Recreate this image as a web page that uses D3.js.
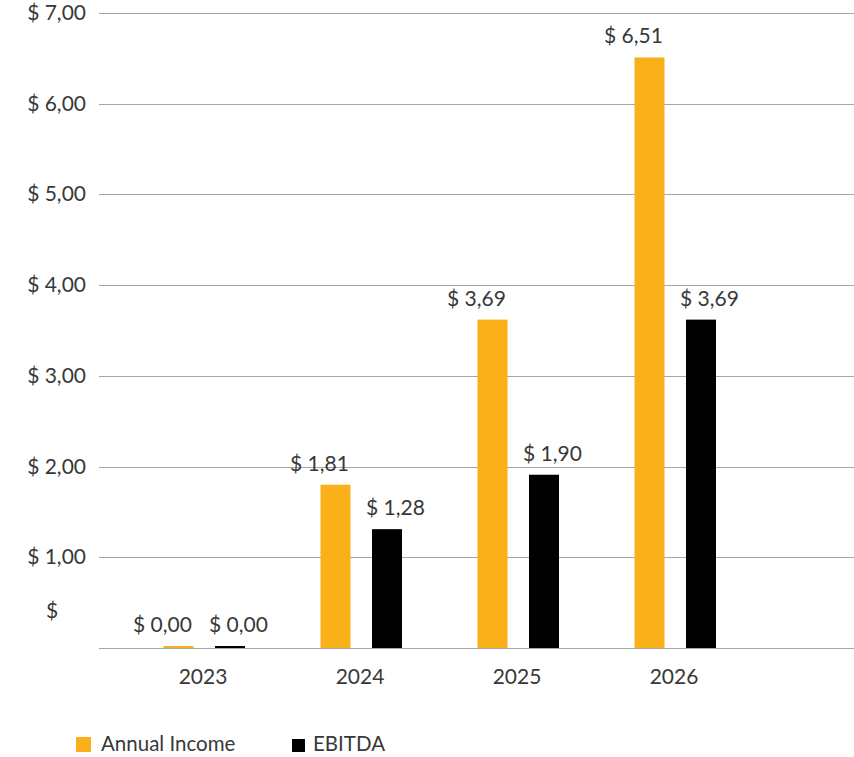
<!DOCTYPE html>
<html>
<head>
<meta charset="utf-8">
<script src="https://cdn.jsdelivr.net/npm/d3@7/dist/d3.min.js"></script>
<style>
  html, body { margin: 0; padding: 0; background: #fff; }
  svg { display: block; font-family: Lato, "Open Sans", sans-serif; font-weight: 400; }
</style>
</head>
<body>
<svg id="chart" width="854" height="757"></svg>
<script>
const categories = ["2023", "2024", "2025", "2026"];
const seriesNames = ["Annual Income", "EBITDA"];
const annualIncome = [0.00, 1.80, 3.62, 6.51];
const ebitda = [0.00, 1.31, 1.91, 3.62];
const valueLabels = [["$ 0,00", "$ 1,81", "$ 3,69", "$ 6,51"], ["$ 0,00", "$ 1,28", "$ 1,90", "$ 3,69"]];
const yTicks = [0, 1, 2, 3, 4, 5, 6, 7];
const yTickLabels = ["$", "$ 1,00", "$ 2,00", "$ 3,00", "$ 4,00", "$ 5,00", "$ 6,00", "$ 7,00"];
const colors = ["#FAB018", "#000000"];

const svg = d3.select("#chart");
const plotLeft = 99, plotRight = 854, plotTop = 13, plotBottom = 648;

const y = d3.scaleLinear().domain([0, 7]).range([plotBottom, plotTop]);
const x = d3.scalePoint().domain(categories).range([203, 674]);
const inner = d3.scalePoint().domain(seriesNames).range([-24.5, 27]);
const barW = 30;
const textColor = "#383838";
const fs = 21;

// gridlines
svg.append("g").selectAll("line").data(yTicks).join("line")
  .attr("x1", plotLeft).attr("x2", plotRight)
  .attr("y1", d => Math.round(y(d)) + 0.5).attr("y2", d => Math.round(y(d)) + 0.5)
  .attr("stroke", "#a6a6a6").attr("stroke-width", 1.2);

// y labels
svg.append("g").selectAll("text").data(yTicks).join("text")
  .attr("x", d => d === 0 ? 46 : 86)
  .attr("y", d => y(d) + 7 - (d === 0 ? 37 : 0))
  .attr("text-anchor", d => d === 0 ? "start" : "end")
  .attr("font-size", fs).attr("fill", textColor)
  .text((d, i) => yTickLabels[i]);

const series = [annualIncome, ebitda];
const bars = [];
series.forEach((vals, si) => {
  vals.forEach((v, ci) => {
    bars.push({ si, ci, v, cat: categories[ci], label: valueLabels[si][ci] });
  });
});

svg.append("g").selectAll("rect").data(bars).join("rect")
  .attr("x", d => x(d.cat) + inner(seriesNames[d.si]) - barW / 2)
  .attr("width", barW)
  .attr("y", d => Math.min(y(d.v), plotBottom - 2))
  .attr("height", d => Math.max(plotBottom - y(d.v), 2))
  .attr("fill", d => colors[d.si]);

// value labels, start-anchored at bar left; if a group's labels collide, spread them around the group center
const labW = 60, gap = 16;
const labelPos = bars.map(d => ({ ...d, lx: x(d.cat) + inner(seriesNames[d.si]) - barW / 2 }));
categories.forEach(cat => {
  const pair = labelPos.filter(p => p.cat === cat);
  if (pair.length === 2 && pair[0].lx + labW + gap > pair[1].lx) {
    const c = x(cat);
    pair[0].lx = c - gap / 2 - labW - 2;
    pair[1].lx = c + gap / 2 - 2;
  }
});
svg.append("g").selectAll("text").data(labelPos).join("text")
  .attr("x", d => d.lx)
  .attr("y", d => Math.min(y(d.v), plotBottom - 2) - 14)
  .attr("font-size", fs).attr("fill", textColor)
  .text(d => d.label);

// x labels
svg.append("g").selectAll("text").data(categories).join("text")
  .attr("x", d => x(d)).attr("y", 684)
  .attr("text-anchor", "middle").attr("font-size", fs).attr("fill", textColor)
  .text(d => d);

// legend
const legend = svg.append("g");
const legX = [76, 292];
const legSize = [15, 13];
seriesNames.forEach((name, i) => {
  legend.append("rect").attr("x", legX[i]).attr("y", 752 - legSize[i]).attr("width", legSize[i]).attr("height", legSize[i])
    .attr("fill", colors[i]);
  legend.append("text").attr("x", legX[i] + legSize[i] + 10 - (i ? 2 : 0)).attr("y", 751)
    .attr("font-size", 20.5).attr("fill", textColor).text(name);
});
</script>
</body>
</html>
